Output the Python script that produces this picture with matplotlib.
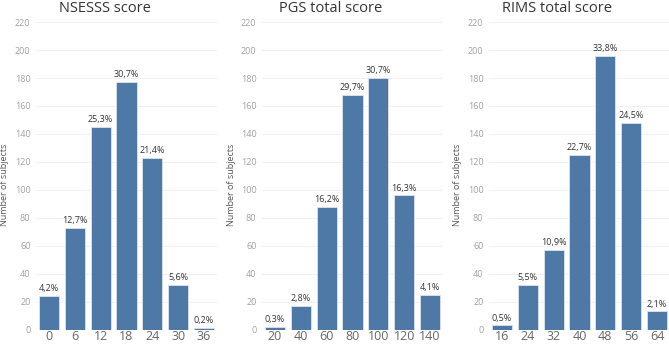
import matplotlib.pyplot as plt

plt.rcParams['font.family'] = ['Open Sans', 'DejaVu Sans']

# data
titles = ['NSESSS score', 'PGS total score', 'RIMS total score']

nsesss_bins = ['0', '6', '12', '18', '24', '30', '36']
nsesss_counts = [24, 73, 145, 177, 123, 32, 1]
nsesss_pct = ['4,2%', '12,7%', '25,3%', '30,7%', '21,4%', '5,6%', '0,2%']

pgs_bins = ['20', '40', '60', '80', '100', '120', '140']
pgs_counts = [2, 17, 88, 168, 180, 96, 25]
pgs_pct = ['0,3%', '2,8%', '16,2%', '29,7%', '30,7%', '16,3%', '4,1%']

rims_bins = ['16', '24', '32', '40', '48', '56', '64']
rims_counts = [3, 32, 57, 125, 196, 148, 13]
rims_pct = ['0,5%', '5,5%', '10,9%', '22,7%', '33,8%', '24,5%', '2,1%']

panels = [
    (nsesss_bins, nsesss_counts, nsesss_pct),
    (pgs_bins, pgs_counts, pgs_pct),
    (rims_bins, rims_counts, rims_pct),
]

W, H = 669, 345
fig = plt.figure(figsize=(W / 100, H / 100), dpi=100)

lefts = [36, 262, 489]
width_px = 181
ymin, ymax = 0, 224
unit = 1.397
zero_px = 329.5
bottom_px = zero_px - ymin * unit
height_px = (ymax - ymin) * unit

for i, (bins, counts, pct) in enumerate(panels):
    ax = fig.add_axes([lefts[i] / W, 1 - bottom_px / H, width_px / W, height_px / H])
    x = range(len(bins))
    bars = ax.bar(x, counts, width=0.78, color='#4e79a7', edgecolor='#dbe4ee',
                  linewidth=0.6, zorder=3)
    for b, p in zip(bars, pct):
        ax.annotate(p, (b.get_x() + b.get_width() / 2, b.get_height()),
                    xytext=(0, 2), textcoords='offset points',
                    ha='center', va='bottom', fontsize=6.5, color='#333333')
    ax.set_ylim(ymin, ymax)
    ax.set_xlim(-0.5, len(bins) - 0.5)
    ax.set_yticks(range(0, 221, 20))
    ax.set_xticks(list(x))
    ax.set_xticklabels(bins)
    ax.tick_params(axis='y', length=0, labelsize=6.5, labelcolor='#a0a0a0', pad=4)
    ax.tick_params(axis='x', length=0, labelsize=9, labelcolor='#666666', pad=0)
    ax.grid(axis='y', color='#f0f0f0', linewidth=0.7, zorder=0)
    for s in ax.spines.values():
        s.set_visible(False)
    cx = (lefts[i] + width_px / 2 - 22) / W
    fig.text(cx, 1 - 8 / H, titles[i], ha='center', va='center',
             fontsize=10.5, color='#333333')
    fig.text((lefts[i] - 31) / W, 1 - 185 / H, 'Number of subjects', rotation=90,
             ha='center', va='center', fontsize=6.5, color='#555555')

fig.savefig('out.png', dpi=100)
